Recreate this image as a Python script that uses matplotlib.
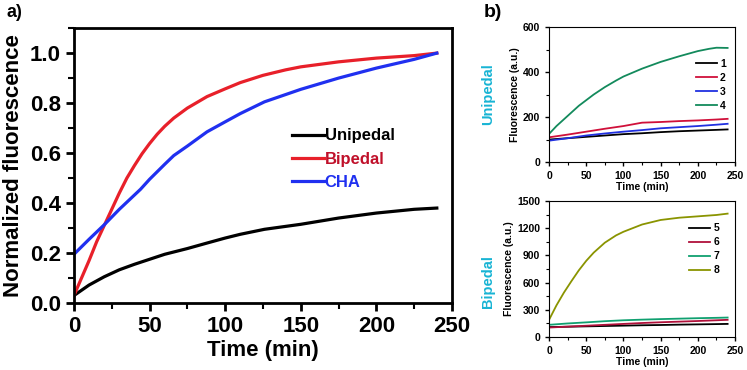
"""Normalized fluorescence kinetics (a) and raw traces for unipedal / bipedal walkers (b)"""
import matplotlib.pyplot as plt
from matplotlib.ticker import MultipleLocator

plt.rcParams['font.family'] = ['Liberation Sans', 'DejaVu Sans']
plt.rcParams['font.weight'] = 'bold'

# panel a
TIME_UNI = [0, 10, 20, 30, 40, 50, 60, 75, 88, 100, 110, 126, 150, 175, 200, 225, 240]
UNIPEDAL = [0.03, 0.072, 0.105, 0.133, 0.155, 0.175, 0.195, 0.218, 0.24, 0.26,
            0.275, 0.295, 0.315, 0.34, 0.36, 0.375, 0.38]
TIME_BI = [0, 5, 10, 15, 20, 25, 30, 35, 40, 45, 50, 55, 60, 66, 75, 88, 100,
           110, 125, 140, 150, 175, 200, 225, 240]
BIPEDAL = [0.03, 0.10, 0.17, 0.245, 0.31, 0.375, 0.44, 0.50, 0.55, 0.597,
           0.638, 0.675, 0.707, 0.74, 0.78, 0.826, 0.857, 0.882, 0.911, 0.933,
           0.945, 0.965, 0.98, 0.99, 1.0]
TIME_CHA = [0, 10, 20, 30, 44, 50, 60, 66, 75, 88, 100, 110, 126, 150, 175, 200, 225, 240]
CHA = [0.195, 0.255, 0.313, 0.375, 0.455, 0.495, 0.555, 0.59, 0.628, 0.685, 0.725,
       0.758, 0.805, 0.855, 0.90, 0.94, 0.975, 1.0]

# panel b, top (unipedal)
TIME_B = [0, 25, 50, 75, 100, 125, 150, 175, 200, 225, 240]
TRACE_1 = [100, 106, 112, 118, 124, 128, 133, 137, 140, 143, 145]
TRACE_2 = [110, 122, 135, 148, 160, 175, 178, 182, 185, 189, 192]
TRACE_3 = [95, 106, 118, 127, 135, 142, 150, 155, 160, 166, 170]
TIME_B4 = [0, 10, 25, 40, 50, 60, 75, 90, 100, 125, 150, 175, 200, 215, 225, 240]
TRACE_4 = [125, 160, 205, 250, 275, 300, 333, 362, 380, 415, 445, 470, 493, 503, 508, 507]
# panel b, bottom (bipedal)
TRACE_5 = [110, 114, 118, 122, 126, 130, 133, 137, 140, 143, 145]
TRACE_6 = [105, 115, 125, 135, 145, 155, 163, 170, 177, 185, 190]
TRACE_7 = [135, 150, 162, 175, 185, 192, 198, 203, 208, 212, 215]
TIME_B8 = [0, 10, 20, 30, 40, 50, 60, 75, 90, 100, 125, 150, 175, 200, 225, 240]
TRACE_8 = [190, 350, 490, 615, 735, 840, 930, 1040, 1120, 1160, 1240, 1290,
           1315, 1330, 1345, 1360]

fig = plt.figure(figsize=(7.47, 3.70), dpi=100)

# ---- panel a ----
ax = fig.add_axes([0.099, 0.181, 0.506, 0.743])
ax.plot(TIME_UNI, UNIPEDAL, color='black', lw=2.3, label='Unipedal')
ax.plot(TIME_BI, BIPEDAL, color='#e8202a', lw=2.3, label='Bipedal')
ax.plot(TIME_CHA, CHA, color='#2030f0', lw=2.3, label='CHA')
ax.set_xlim(0, 250)
ax.set_ylim(0, 1.1)
ax.xaxis.set_major_locator(MultipleLocator(50))
ax.xaxis.set_minor_locator(MultipleLocator(25))
ax.yaxis.set_major_locator(MultipleLocator(0.2))
ax.yaxis.set_minor_locator(MultipleLocator(0.1))
ax.tick_params(which='major', direction='out', length=6, width=2, labelsize=16)
ax.tick_params(which='minor', direction='out', length=4, width=1.5)
for sp in ax.spines.values():
    sp.set_linewidth(2)
ax.set_xlabel('Time (min)', fontsize=16, fontweight='bold', labelpad=2)
ax.set_ylabel('Normalized fluorescence', fontsize=16, fontweight='bold', labelpad=4)
leg = ax.legend(loc='upper left', bbox_to_anchor=(0.577, 0.635), frameon=False,
                fontsize=12, handlelength=1.9, handletextpad=0.05,
                labelspacing=0.5, borderpad=0, borderaxespad=0)
for txt, col in zip(leg.get_texts(), ['black', '#c0102a', '#2030f0']):
    txt.set_color(col)
    txt.set_fontweight('bold')
fig.text(0.009, 0.955, 'a)', fontsize=13, fontweight='bold')


def small_panel(rect, series, colors, labels, ymax, ystep, leg_anchor):
    """Draw one of the small raw-fluorescence panels"""
    axs = fig.add_axes(rect)
    for (tt, trace), col, lab in zip(series, colors, labels):
        axs.plot(tt, trace, color=col, lw=1.3, label=lab)
    axs.set_xlim(0, 250)
    axs.set_ylim(0, ymax)
    axs.xaxis.set_major_locator(MultipleLocator(50))
    axs.xaxis.set_minor_locator(MultipleLocator(25))
    axs.yaxis.set_major_locator(MultipleLocator(ystep))
    axs.yaxis.set_minor_locator(MultipleLocator(ystep / 2))
    axs.tick_params(which='major', direction='out', length=3, width=1, labelsize=7.5)
    axs.tick_params(which='minor', direction='out', length=2, width=0.8)
    for lbl in axs.get_xticklabels() + axs.get_yticklabels():
        lbl.set_fontweight('bold')
    axs.set_xlabel('Time (min)', fontsize=7.5, fontweight='bold', labelpad=1)
    axs.set_ylabel('Fluorescence (a.u.)', fontsize=7.5, fontweight='bold', labelpad=2)
    lg = axs.legend(loc='upper left', bbox_to_anchor=leg_anchor, frameon=False,
                    fontsize=7.5, handlelength=2.0, handletextpad=0.3,
                    labelspacing=0.38, borderpad=0, borderaxespad=0)
    for txt in lg.get_texts():
        txt.set_fontweight('bold')
    return axs


small_panel([0.735, 0.562, 0.249, 0.365],
            [(TIME_B, TRACE_1), (TIME_B, TRACE_2), (TIME_B, TRACE_3), (TIME_B4, TRACE_4)],
            ['black', '#d0103a', '#2030e0', '#138a5c'],
            ['1', '2', '3', '4'], 600, 200, (0.79, 0.765))
small_panel([0.735, 0.089, 0.249, 0.368],
            [(TIME_B, TRACE_5), (TIME_B, TRACE_6), (TIME_B, TRACE_7), (TIME_B8, TRACE_8)],
            ['black', '#b0103a', '#10a070', '#8a9400'],
            ['5', '6', '7', '8'], 1500, 300, (0.755, 0.835))

fig.text(0.647, 0.955, 'b)', fontsize=14, fontweight='bold')
fig.text(0.653, 0.745, 'Unipedal', rotation=90, color='#18b4d4', fontsize=10.5,
         fontweight='bold', ha='center', va='center')
fig.text(0.653, 0.24, 'Bipedal', rotation=90, color='#18b4d4', fontsize=10.5,
         fontweight='bold', ha='center', va='center')

fig.savefig('out.png', dpi=100)
